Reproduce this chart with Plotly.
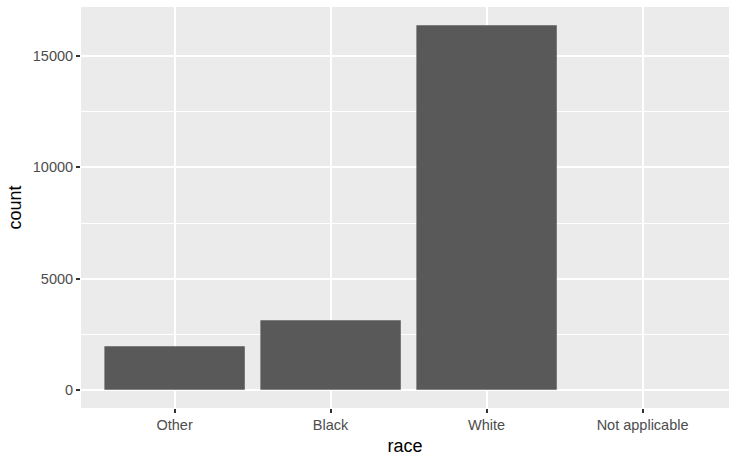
import plotly.graph_objects as go

categories = ["Other", "Black", "White", "Not applicable"]
counts = [1959, 3129, 16395, 0]
y_ticks = [0, 5000, 10000, 15000]
y_minor = [2500, 7500, 12500]

fig = go.Figure(go.Bar(x=categories, y=counts, marker=dict(color="#595959", line=dict(width=0)), width=0.9))

ymax = max(counts) * 1.05
ymin = -max(counts) * 0.05
font = "Liberation Sans, Arial, sans-serif"
fig.update_layout(
    width=729, height=456,
    margin=dict(l=81, r=0, t=7, b=48, autoexpand=False),
    paper_bgcolor="white", plot_bgcolor="#EBEBEB",
    showlegend=False,
    font=dict(family=font, color="#4D4D4D", size=14.5),
)
fig.update_xaxes(
    range=[-0.6, 3.554], showgrid=True, gridcolor="white", gridwidth=2,
    ticks="outside", ticklen=4, tickwidth=1.5, tickcolor="#333333",
    tickfont=dict(size=14.5, color="#4D4D4D"),
    title=dict(text="race", font=dict(size=18, color="black"), standoff=6),
    zeroline=False, showline=False, automargin=False,
)
fig.update_yaxes(
    range=[ymin, ymax], tickvals=y_ticks, tickformat="d",
    showgrid=True, gridcolor="white", gridwidth=2,
    minor=dict(tickvals=y_minor, showgrid=True, gridcolor="white", gridwidth=1, ticks=""),
    ticks="outside", ticklen=4, tickwidth=1.5, tickcolor="#333333",
    tickfont=dict(size=14.5, color="#4D4D4D"),
    title=dict(text="count", font=dict(size=18, color="black"), standoff=6),
    zeroline=False, showline=False, automargin=False,
)
fig.write_html("out.html", config={"displayModeBar": False},
               post_script="document.body.style.margin='0';document.body.style.overflow='hidden';")
